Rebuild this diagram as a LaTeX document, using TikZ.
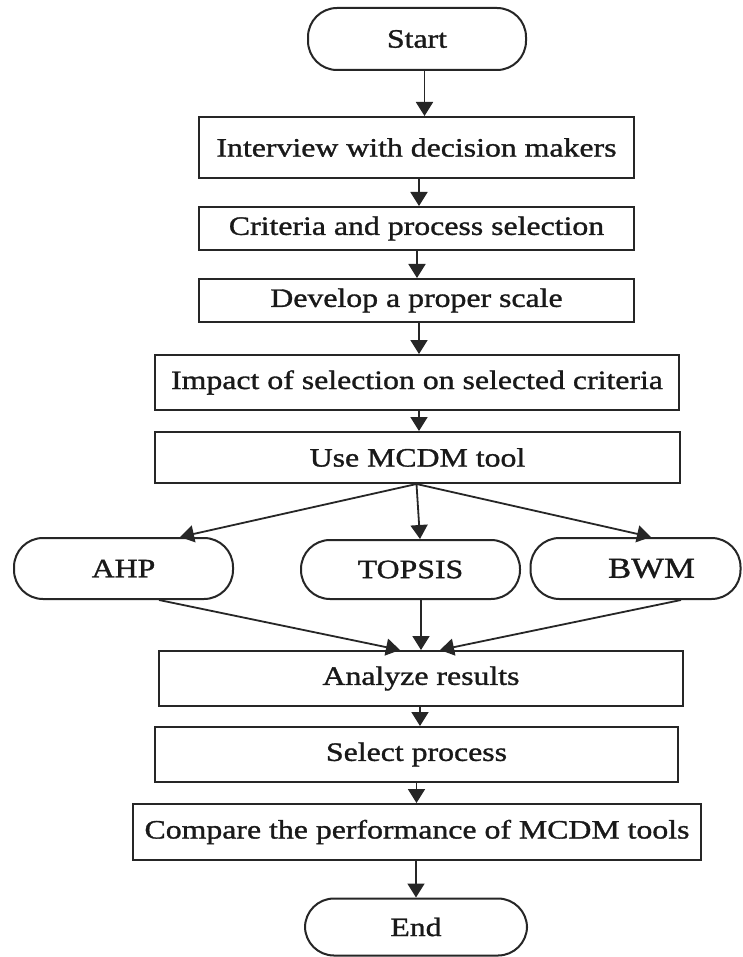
\documentclass[tikz,border=0pt]{standalone}
\usepackage{fontspec}
\setmainfont{Liberation Serif}[FakeStretch=1.2,FakeBold=1.2]
\usetikzlibrary{arrows.meta,calc}
\begin{document}
\begin{tikzpicture}[x=1pt,y=-1pt,
  box/.style={draw=black!85,line width=2pt,rectangle,inner sep=0pt,font=\fontsize{26.5}{30}\selectfont,text=black!90},
  term/.style={box,rounded corners=29pt},
  arr/.style={draw=black!85,line width=1.8pt,-{Triangle[width=17pt,length=14pt]}}]
\useasboundingbox[fill=white] (0,0) rectangle (742,957);

\node[term,minimum width=218pt,minimum height=62pt] (start) at (417,39) {Start};
\node[box,minimum width=435pt,minimum height=61pt] (interview) at (416.5,147.5) {Interview with decision makers};
\node[box,minimum width=435pt,minimum height=43pt] (criteria) at (416.5,228.5) {Criteria and process selection};
\node[box,minimum width=435pt,minimum height=43pt] (develop) at (416.5,300.5) {Develop a proper scale};
\node[box,minimum width=524pt,minimum height=55pt] (impact) at (417,382.5) {Impact of selection on selected criteria};
\node[box,minimum width=525pt,minimum height=51pt] (mcdm) at (417.5,457.5) {Use MCDM tool};
\node[term,minimum width=219pt,minimum height=61pt] (ahp) at (123.5,568.5) {AHP};
\node[term,minimum width=219pt,minimum height=59pt] (topsis) at (410.5,569.5) {TOPSIS};
\node[term,minimum width=210pt,minimum height=61pt,font=\fontsize{29}{32}\selectfont] (bwm) at (635.5,568.5) {\hspace*{32pt}BWM};
\node[box,minimum width=524pt,minimum height=55pt] (analyze) at (421,678.5) {Analyze results};
\node[box,minimum width=523pt,minimum height=55pt] (select) at (416.5,754.5) {Select process};
\node[box,minimum width=568pt,minimum height=56pt] (compare) at (417,832) {Compare the performance of MCDM tools};
\node[term,minimum width=222pt,minimum height=57pt] (end) at (416,927) {End};

\draw[arr] ([xshift=7.5pt]start.south) -- ([xshift=7.5pt]start.south |- interview.north);
\draw[arr] ([xshift=2.5pt]interview.south) -- ([xshift=2.5pt]interview.south |- criteria.north);
\draw[arr] ([xshift=0.5pt]criteria.south) -- ([xshift=0.5pt]criteria.south |- develop.north);
\draw[arr] ([xshift=2.5pt]develop.south) -- ([xshift=2.5pt]develop.south |- impact.north);
\draw[arr] ([xshift=2pt]impact.south) -- ([xshift=2pt]impact.south |- mcdm.north);

\draw[arr] ([xshift=-1pt]mcdm.south) -- ([xshift=56.5pt]ahp.north);
\draw[arr] ([xshift=-1pt]mcdm.south) -- ([xshift=9.5pt]topsis.north);
\draw[arr] ([xshift=-1pt]mcdm.south) -- ([xshift=15.5pt]bwm.north);

\draw[arr] ([xshift=35.5pt]ahp.south) -- ([xshift=-21pt]analyze.north);
\draw[arr] ([xshift=10.5pt]topsis.south) -- (analyze.north);
\draw[arr] ([xshift=45.5pt]bwm.south) -- ([xshift=19pt]analyze.north);

\draw[arr] ([xshift=-1pt]analyze.south) -- ([xshift=-1pt]analyze.south |- select.north);
\draw[arr] (select.south) -- (select.south |- compare.north);
\draw[arr] ([xshift=-1pt]compare.south) -- ([xshift=-1pt]compare.south |- end.north);
\end{tikzpicture}
\end{document}
